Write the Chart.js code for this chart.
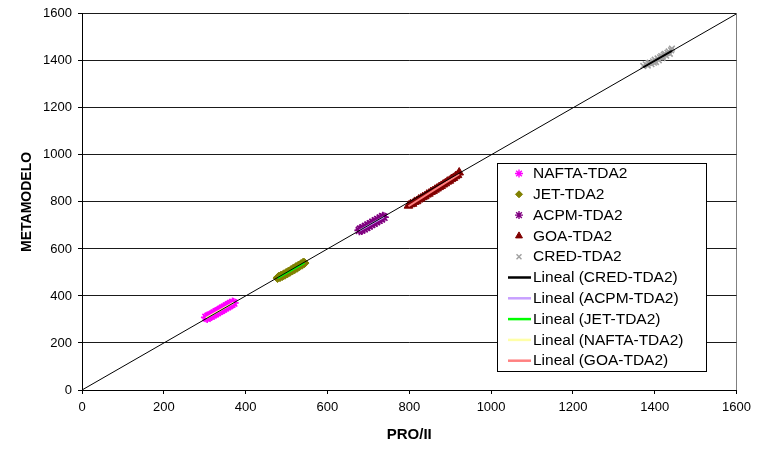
<!DOCTYPE html>
<html>
<head>
<meta charset="utf-8">
<script src="https://cdn.jsdelivr.net/npm/chart.js@4.4.1/dist/chart.umd.min.js"></script>
<style>
  html, body { margin: 0; padding: 0; background: #ffffff; }
  #wrap { width: 757px; height: 450px; }
</style>
</head>
<body>
<div id="wrap"><canvas id="c" width="757" height="450"></canvas></div>
<script>
// Scale ticks (both axes)
const tickValues = [0, 200, 400, 600, 800, 1000, 1200, 1400, 1600];

// Reference line y = x across the whole range
const identityLine = [0, 1600];

// Measured pairs [PRO/II, METAMODELO] per case
const naftaTDA2 = [
  [303,309],[306,306],[308,313],[311,312],[313,318],[316,315],[318,321],[321,320],
  [323,327],[326,325],[328,332],[331,330],[333,337],[336,335],[338,342],[341,340],
  [343,347],[346,345],[348,352],[351,350],[353,357],[356,355],[358,362],[361,360],
  [363,367],[366,365],[368,372],[371,370]
];
const jetTDA2 = [
  [478,476],[481,482],[484,480],[487,487],[490,485],[493,492],[496,490],[499,498],
  [502,496],[505,504],[508,502],[511,510],[514,508],[517,517],[520,514],[523,523],
  [526,520],[529,529],[532,527],[535,535],[538,533],[541,542],[544,540]
];
const acpmTDA2 = [
  [678,679],[681,684],[684,681],[687,690],[690,686],[693,695],[696,692],[699,701],
  [702,698],[705,707],[708,704],[711,713],[714,710],[717,719],[720,716],[723,725],
  [726,722],[729,731],[732,728],[735,737],[738,735]
];
const goaTDA2 = [
  [798,784],[803,790],[808,792],[813,800],[818,803],[823,810],[828,814],[833,820],
  [838,824],[843,831],[848,835],[853,842],[858,846],[863,852],[868,857],[873,863],
  [878,868],[883,874],[888,879],[893,886],[898,890],[903,897],[908,902],[913,909],
  [918,914],[922,925]
];
const credTDA2 = [
  [1372,1378],[1378,1385],[1383,1380],[1385,1390],[1388,1392],[1392,1386],[1396,1398],
  [1398,1392],[1400,1405],[1403,1395],[1407,1410],[1410,1402],[1413,1415],[1416,1420],
  [1419,1412],[1420,1418],[1422,1426],[1425,1430],[1428,1422],[1431,1434],[1434,1440],
  [1437,1430],[1440,1445],[1442,1452]
];

const toPoints = arr => arr.map(([x, y]) => ({ x, y }));

// Least-squares line drawn over the x-range of a series
function linearFit(arr) {
  const n = arr.length;
  let sx = 0, sy = 0, sxx = 0, sxy = 0;
  arr.forEach(([x, y]) => { sx += x; sy += y; sxx += x * x; sxy += x * y; });
  const m = (n * sxy - sx * sy) / (n * sxx - sx * sx);
  const b = (sy - m * sx) / n;
  const xs = arr.map(p => p[0]);
  const x0 = Math.min(...xs), x1 = Math.max(...xs);
  return [{ x: x0, y: m * x0 + b }, { x: x1, y: m * x1 + b }];
}

const markerSeries = [
  { label: 'NAFTA-TDA2', data: naftaTDA2, style: 'star',     color: '#ff00ff', radius: 5,   legendRadius: 4 },
  { label: 'JET-TDA2',   data: jetTDA2,   style: 'rectRot',  color: '#808000', radius: 4.5, legendRadius: 3.5 },
  { label: 'ACPM-TDA2',  data: acpmTDA2,  style: 'star',     color: '#800080', radius: 5,   legendRadius: 4 },
  { label: 'GOA-TDA2',   data: goaTDA2,   style: 'triangle', color: '#800000', radius: 5,   legendRadius: 4 },
  { label: 'CRED-TDA2',  data: credTDA2,  style: 'crossRot', color: '#a0a0a0', radius: 4,   legendRadius: 3.5 }
];

const trendSeries = [
  { label: 'Lineal (CRED-TDA2)',  data: credTDA2,  color: '#000000' },
  { label: 'Lineal (ACPM-TDA2)',  data: acpmTDA2,  color: '#c8a0ff' },
  { label: 'Lineal (JET-TDA2)',   data: jetTDA2,   color: '#00ff00' },
  { label: 'Lineal (NAFTA-TDA2)', data: naftaTDA2, color: '#ffffa8' },
  { label: 'Lineal (GOA-TDA2)',   data: goaTDA2,   color: '#ff8080' }
];

const datasets = [];
markerSeries.forEach(s => {
  const filled = s.style === 'rectRot' || s.style === 'triangle';
  datasets.push({
    label: s.label,
    data: toPoints(s.data),
    showLine: false,
    pointStyle: s.style,
    pointRadius: s.radius,
    pointHoverRadius: s.radius,
    pointBackgroundColor: s.color,
    pointBorderColor: s.color,
    pointBorderWidth: filled ? 1 : 1.6,
    order: 5
  });
});
trendSeries.forEach(s => {
  datasets.push({
    label: s.label,
    data: linearFit(s.data),
    showLine: true,
    borderColor: s.color,
    borderWidth: 2,
    pointRadius: 0,
    fill: false,
    order: 2
  });
});
datasets.push({
  label: 'y = x',
  data: identityLine.map(v => ({ x: v, y: v })),
  showLine: true,
  borderColor: '#000000',
  borderWidth: 1,
  pointRadius: 0,
  fill: false,
  order: 1
});

// Legend box drawn inside the plot area
const legendItems = [
  ...markerSeries.map(s => ({ text: s.label, kind: 'point', s })),
  ...trendSeries.map(s => ({ text: s.label, kind: 'line', color: s.color }))
];

const insideLegend = {
  id: 'insideLegend',
  afterDraw(chart) {
    const ctx = chart.ctx;
    const box = { left: 497.5, top: 163.5, width: 209, height: 208 };
    ctx.save();
    ctx.fillStyle = '#ffffff';
    ctx.fillRect(box.left, box.top, box.width, box.height);
    ctx.strokeStyle = '#000000';
    ctx.lineWidth = 1;
    ctx.strokeRect(box.left, box.top, box.width, box.height);
    ctx.font = '15.5px "Liberation Sans", Arial, sans-serif';
    ctx.textBaseline = 'middle';
    ctx.textAlign = 'left';
    const rowH = 20.8;
    legendItems.forEach((it, i) => {
      const y = box.top + 10 + i * rowH;
      if (it.kind === 'point') {
        const filled = it.s.style === 'rectRot' || it.s.style === 'triangle';
        ctx.fillStyle = it.s.color;
        ctx.strokeStyle = it.s.color;
        ctx.lineWidth = filled ? 1 : 1.4;
        Chart.helpers.drawPoint(ctx, {
          pointStyle: it.s.style,
          radius: it.s.legendRadius,
          rotation: 0,
          borderWidth: filled ? 1 : 1.4
        }, 519, y);
      } else {
        ctx.strokeStyle = it.color;
        ctx.lineWidth = 2.5;
        ctx.beginPath();
        ctx.moveTo(508, y);
        ctx.lineTo(531, y);
        ctx.stroke();
      }
      ctx.fillStyle = '#000000';
      ctx.fillText(it.text, 533, y + 0.5);
    });
    ctx.restore();
  }
};

const tickFont = { family: '"Liberation Sans", Arial, sans-serif', size: 13 };
const plainLabel = v => String(v);

new Chart(document.getElementById('c'), {
  type: 'scatter',
  data: { datasets },
  options: {
    responsive: false,
    devicePixelRatio: 1,
    animation: false,
    events: [],
    layout: { padding: { top: 12, right: 20, left: 0, bottom: 0 } },
    plugins: {
      legend: { display: false },
      tooltip: { enabled: false }
    },
    scales: {
      x: {
        type: 'linear',
        min: 0,
        max: 1600,
        afterBuildTicks: axis => { axis.ticks = tickValues.map(v => ({ value: v })); },
        afterFit: axis => { axis.height = 60; },
        ticks: { color: '#000000', font: tickFont, padding: 6, maxRotation: 0, callback: plainLabel },
        grid: {
          drawOnChartArea: true,
          tickLength: 4,
          tickColor: '#000000',
          color: ctx => (ctx.tick && ctx.tick.value === 1600 ? '#808080' : 'rgba(0,0,0,0)'),
          lineWidth: 1
        },
        border: { display: true, color: '#000000', width: 1 },
        title: {
          display: true,
          text: 'PRO/II',
          color: '#000000',
          font: { family: '"Liberation Sans", Arial, sans-serif', size: 15, weight: 'bold' },
          padding: { top: 0, bottom: 6 }
        }
      },
      y: {
        type: 'linear',
        min: 0,
        max: 1600,
        afterBuildTicks: axis => { axis.ticks = tickValues.map(v => ({ value: v })); },
        afterFit: axis => { axis.width = 82; },
        ticks: { color: '#000000', font: tickFont, padding: 6, callback: plainLabel },
        grid: {
          tickLength: 4,
          tickColor: '#000000',
          color: '#1a1a1a',
          lineWidth: 1
        },
        border: { display: true, color: '#000000', width: 1 },
        title: {
          display: true,
          text: 'METAMODELO',
          color: '#000000',
          font: { family: '"Liberation Sans", Arial, sans-serif', size: 14, weight: 'bold' },
          padding: { top: 19, bottom: 0 }
        }
      }
    }
  },
  plugins: [insideLegend]
});
</script>
</body>
</html>
